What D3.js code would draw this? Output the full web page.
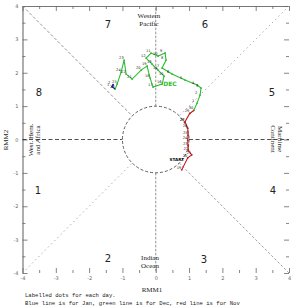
<!DOCTYPE html>
<meta charset="utf-8">
<style>
body { margin: 0; background: #fff; }
svg { display: block; }
.tick text { font: 5px "DejaVu Sans", sans-serif; fill: #666; }
.region { font: 7px "Liberation Serif", serif; fill: #222; }
.phase { font: 10px "DejaVu Sans", sans-serif; fill: #222; }
.day { font: 3.6px "DejaVu Sans", sans-serif; fill: #222; }
.foot { font: 5.6px "Liberation Mono", monospace; fill: #222; }
</style>
<svg width="292" height="306"></svg>
<script src="https://d3js.org/d3.v7.min.js"></script>
<script>

// November (red)
var novDays = [19, 20, 21, 22, 23, 24, 25, 26, 27, 28, 29, 30];
var novRmm1 = [0.78, 0.96, 1.08, 0.98, 0.97, 0.96, 0.97, 0.96, 0.88, 0.87, 1.02, 1.14];
var novRmm2 = [-0.91, -0.55, -0.46, -0.33, -0.18, -0.02, 0.13, 0.34, 0.52, 0.52, 0.78, 0.87];

// December (green)
var decDays = [1, 2, 3, 4, 5, 6, 7, 8, 9, 10, 11, 12, 13, 14, 15, 16, 17, 18, 19, 20, 21, 22, 23, 24, 25, 26];
var decRmm1 = [1.24, 1.33, 1.36, 1.24, 0.88, 0.49, 0.19, 0.31, 0.28, 0.07, -0.14, -0.29, -0.11, 0.07, 0.25, 0.19, -0.08, -0.17, -0.26, -0.44, -0.71, -0.89, -0.95, -1.04, -1.16, -1.22];
var decRmm2 = [1.09, 1.33, 1.54, 1.63, 1.78, 1.96, 2.14, 2.38, 2.59, 2.50, 2.59, 2.44, 2.26, 2.08, 1.90, 1.66, 1.57, 1.84, 2.20, 2.08, 1.81, 1.96, 2.38, 2.02, 1.66, 1.51];

// January (blue)
var janDays = [1, 2];
var janRmm1 = [-1.31, -1.28];
var janRmm2 = [1.58, 1.64];

var axisTicks = [-4, -3, -2, -1, 0, 1, 2, 3, 4];
var minorTicks = [-3.5, -2.5, -1.5, -0.5, 0.5, 1.5, 2.5, 3.5];

var svg = d3.select("svg");

var x = d3.scaleLinear().domain([-4, 4]).range([22.5, 289]);
var y = d3.scaleLinear().domain([-4, 4]).range([273, 6]);

function styleAxis(g, keepDomain) {
  g.selectAll(".tick line").attr("stroke", "#666").attr("stroke-width", 0.8);
  if (keepDomain) g.select(".domain").attr("stroke", "#777").attr("stroke-width", 1.2);
  else g.select(".domain").remove();
}

// bottom
svg.append("g").attr("transform", "translate(0," + y(-4) + ")")
  .call(d3.axisBottom(x).tickValues(axisTicks).tickSizeInner(-5).tickSizeOuter(0).tickPadding(3)
    .tickFormat(function(d) { return String(d); }))
  .call(styleAxis, false);
svg.append("g").attr("transform", "translate(0," + y(-4) + ")")
  .call(d3.axisBottom(x).tickValues(minorTicks).tickSizeInner(-3).tickSizeOuter(0).tickFormat(""))
  .call(styleAxis, false);

// left
svg.append("g").attr("transform", "translate(" + x(-4) + ",0)")
  .call(d3.axisLeft(y).tickValues(axisTicks).tickSizeInner(-5).tickSizeOuter(0).tickPadding(4)
    .tickFormat(function(d) { return String(d); }))
  .call(styleAxis, true);
svg.append("g").attr("transform", "translate(" + x(-4) + ",0)")
  .call(d3.axisLeft(y).tickValues(minorTicks).tickSizeInner(-3).tickSizeOuter(0).tickFormat(""))
  .call(styleAxis, false);

// top
svg.append("g").attr("transform", "translate(0," + y(4) + ")")
  .call(d3.axisTop(x).tickValues(axisTicks).tickSizeInner(-5).tickSizeOuter(0).tickFormat(""))
  .call(styleAxis, true);
svg.append("g").attr("transform", "translate(0," + y(4) + ")")
  .call(d3.axisTop(x).tickValues(minorTicks).tickSizeInner(-3).tickSizeOuter(0).tickFormat(""))
  .call(styleAxis, false);

// right
svg.append("g").attr("transform", "translate(" + x(4) + ",0)")
  .call(d3.axisRight(y).tickValues(axisTicks).tickSizeInner(-5).tickSizeOuter(0).tickFormat(""))
  .call(styleAxis, false);
svg.append("g").attr("transform", "translate(" + x(4) + ",0)")
  .call(d3.axisRight(y).tickValues(minorTicks).tickSizeInner(-3).tickSizeOuter(0).tickFormat(""))
  .call(styleAxis, false);

// phase boundaries
var g = svg.append("g");
var s = Math.SQRT1_2;
function seg(x1, y1, x2, y2, col, dash) {
  g.append("line")
    .attr("x1", x(x1)).attr("y1", y(y1)).attr("x2", x(x2)).attr("y2", y(y2))
    .attr("stroke", col).attr("stroke-width", 0.8).attr("stroke-dasharray", dash);
}
seg(-4, 0, -1, 0, "#222", "4,2.5");
seg(1, 0, 4, 0, "#222", "4,2.5");
seg(0, 1, 0, 4, "#777", "2.5,1.5");
seg(0, -1, 0, -4, "#777", "2.5,1.5");
seg(-4, 4, -s, s, "#777", "3,2");
seg(4, 4, s, s, "#999", "1.5,3");
seg(-4, -4, -s, -s, "#999", "1.5,3");
seg(4, -4, s, -s, "#888", "2.5,2");

g.append("circle")
  .attr("cx", x(0)).attr("cy", y(0)).attr("r", x(1) - x(0))
  .attr("fill", "none").attr("stroke", "#333").attr("stroke-width", 0.8)
  .attr("stroke-dasharray", "3,2");

// phase numbers
var phases = [["7", 108, 28], ["6", 205, 28], ["8", 39, 96], ["5", 272, 96],
              ["1", 38, 194], ["4", 273, 194], ["2", 108, 262], ["3", 204, 263]];
svg.selectAll(".phase").data(phases).enter().append("text")
  .attr("class", "phase").attr("text-anchor", "middle")
  .attr("x", function(d) { return d[1]; }).attr("y", function(d) { return d[2]; })
  .text(function(d) { return d[0]; });

// region labels
svg.append("text").attr("class", "region").attr("text-anchor", "middle").attr("x", 149).attr("y", 18).text("Western");
svg.append("text").attr("class", "region").attr("text-anchor", "middle").attr("x", 149).attr("y", 26).text("Pacific");
svg.append("text").attr("class", "region").attr("text-anchor", "middle").attr("x", 150).attr("y", 260).text("Indian");
svg.append("text").attr("class", "region").attr("text-anchor", "middle").attr("x", 150).attr("y", 268).text("Ocean");
svg.append("text").attr("class", "region").attr("text-anchor", "middle")
  .attr("transform", "translate(33,140) rotate(-90)").text("West. Hem.");
svg.append("text").attr("class", "region").attr("text-anchor", "middle")
  .attr("transform", "translate(40,140) rotate(-90)").text("and Africa");
svg.append("text").attr("class", "region").attr("text-anchor", "middle")
  .attr("transform", "translate(278,139) rotate(90)").text("Maritime");
svg.append("text").attr("class", "region").attr("text-anchor", "middle")
  .attr("transform", "translate(271,139) rotate(90)").text("Continent");

// axis titles
svg.append("text").attr("class", "region").attr("text-anchor", "middle").attr("x", 152).attr("y", 292).text("RMM1");
svg.append("text").attr("class", "region").attr("text-anchor", "middle")
  .attr("transform", "translate(8,140) rotate(-90)").text("RMM2");

// trajectories
var line = d3.line().x(function(d) { return x(d[0]); }).y(function(d) { return y(d[1]); });

function track(r1, r2, days, col, prev) {
  var pts = r1.map(function(v, i) { return [v, r2[i], days[i]]; });
  var path = prev ? [prev].concat(pts) : pts;
  svg.append("path").attr("d", line(path)).attr("fill", "none")
    .attr("stroke", col).attr("stroke-width", 1.1);
  svg.append("g").selectAll("circle").data(pts).enter().append("circle")
    .attr("cx", function(d) { return x(d[0]); }).attr("cy", function(d) { return y(d[1]); })
    .attr("r", 0.9).attr("fill", col);
  svg.append("g").selectAll("text").data(pts).enter().append("text")
    .attr("class", "day")
    .attr("x", function(d) { return x(d[0]) - 5; }).attr("y", function(d) { return y(d[1]) - 1; })
    .text(function(d) { return d[2]; });
  return pts[pts.length - 1];
}

var lastNov = track(novRmm1, novRmm2, novDays, "#c41a1a", null);
var lastDec = track(decRmm1, decRmm2, decDays, "#2ebd2e", lastNov);
track(janRmm1, janRmm2, janDays, "#1a1a80", lastDec);

svg.append("text").attr("x", x(novRmm1[0]) - 5).attr("y", y(novRmm2[0]) - 9)
  .attr("text-anchor", "middle").style("font", "bold 4.2px 'DejaVu Sans', sans-serif").text("START");
svg.append("text").attr("x", 170).attr("y", 86).attr("text-anchor", "middle")
  .style("font", "bold 6px 'DejaVu Sans', sans-serif").attr("fill", "#2ebd2e").text("DEC");

// footnote
svg.append("text").attr("class", "foot").attr("x", 25).attr("y", 297).text("Labelled dots for each day.");
svg.append("text").attr("class", "foot").attr("x", 25).attr("y", 305)
  .text("Blue line is for Jan, green line is for Dec, red line is for Nov");

</script>
